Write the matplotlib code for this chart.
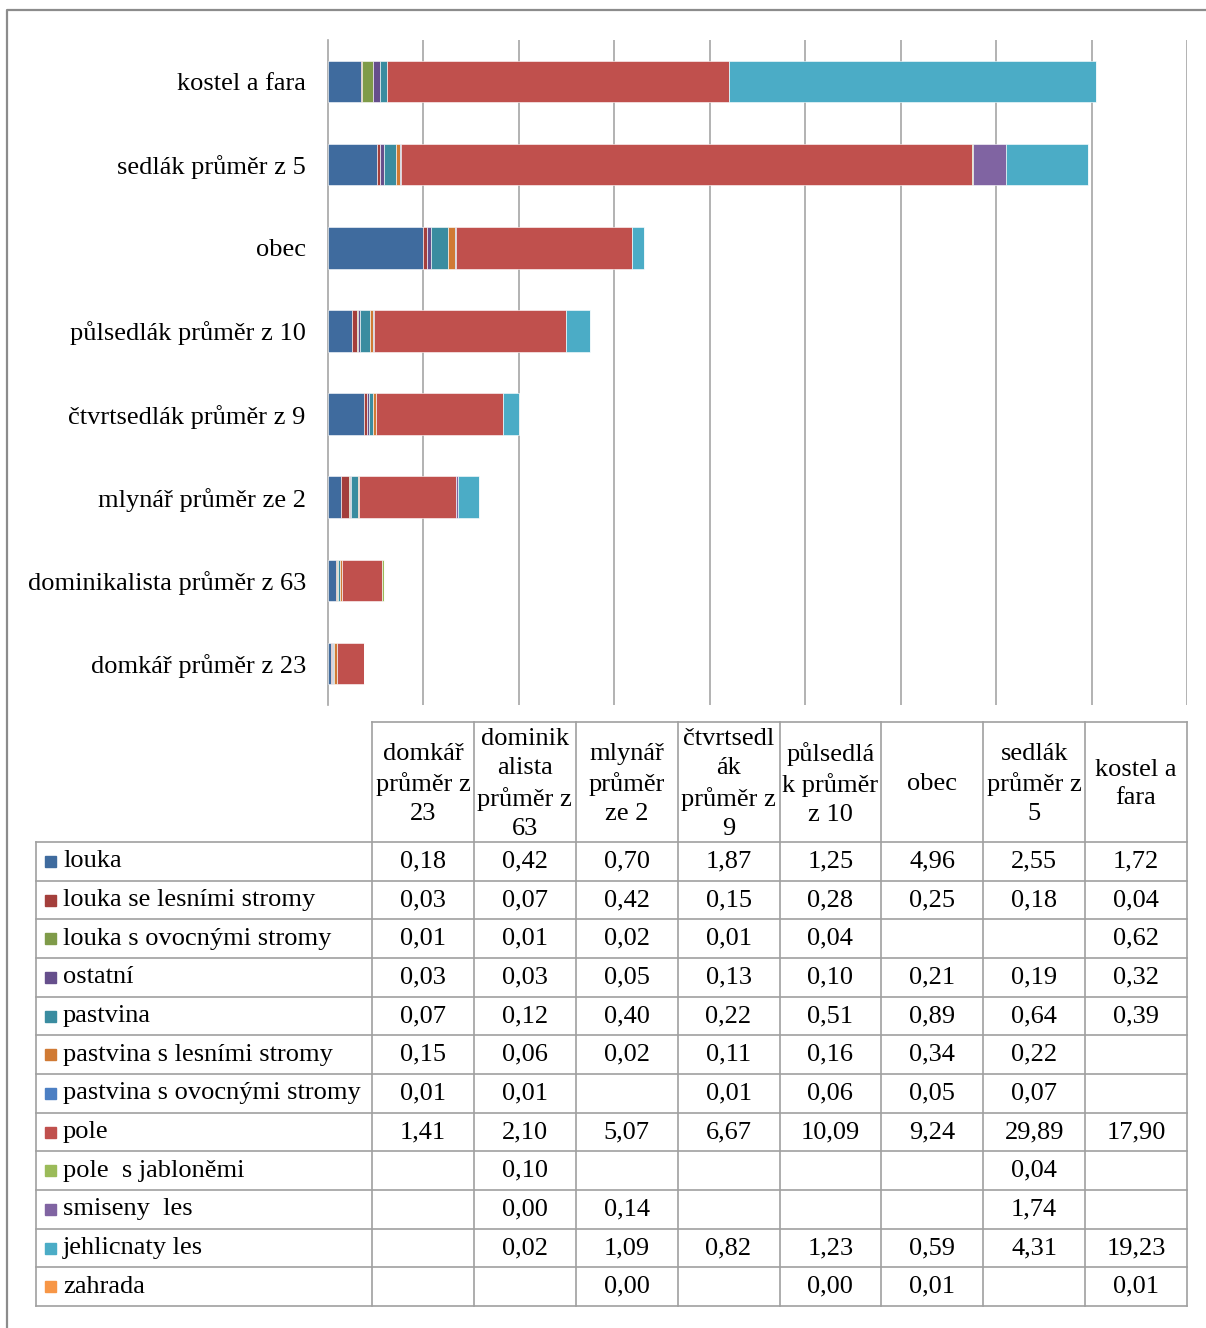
import matplotlib
matplotlib.use("Agg")
import matplotlib.pyplot as plt
import numpy as np
from matplotlib.patches import Rectangle

plt.rcParams.update({
    "font.family": ["Liberation Serif", "DejaVu Serif"],
    "font.size": 19,
})
FS = 19

# ── data ─────────────────────────────────────────────────────────────
categories = [
    "domkář průměr z 23",
    "dominikalista průměr z 63",
    "mlynář průměr ze 2",
    "čtvrtsedlák průměr z 9",
    "půlsedlák průměr z 10",
    "obec",
    "sedlák průměr z 5",
    "kostel a fara",
]
headers = [
    "domkář\nprůměr z\n23",
    "dominik\nalista\nprůměr z\n63",
    "mlynář\nprůměr\nze 2",
    "čtvrtsedl\nák\nprůměr z\n9",
    "půlsedlá\nk průměr\nz 10",
    "obec",
    "sedlák\nprůměr z\n5",
    "kostel a\nfara",
]
series_names = [
    "louka", "louka se lesními stromy", "louka s ovocnými stromy", "ostatní",
    "pastvina", "pastvina s lesními stromy", "pastvina s ovocnými stromy",
    "pole", "pole  s jabloněmi", "smiseny  les", "jehlicnaty les", "zahrada",
]
colors = [
    "#3f6b9e", "#a43f3c", "#7f9b49", "#664f8c", "#3a8ca0", "#d07a34",
    "#4c7fc3", "#c0504d", "#9bbb59", "#8064a2", "#4bacc6", "#f79646",
]
N = None
louka           = [0.18, 0.42, 0.70, 1.87, 1.25, 4.96, 2.55, 1.72]
louka_les       = [0.03, 0.07, 0.42, 0.15, 0.28, 0.25, 0.18, 0.04]
louka_ovoc      = [0.01, 0.01, 0.02, 0.01, 0.04, N,    N,    0.62]
ostatni         = [0.03, 0.03, 0.05, 0.13, 0.10, 0.21, 0.19, 0.32]
pastvina        = [0.07, 0.12, 0.40, 0.22, 0.51, 0.89, 0.64, 0.39]
pastvina_les    = [0.15, 0.06, 0.02, 0.11, 0.16, 0.34, 0.22, N]
pastvina_ovoc   = [0.01, 0.01, N,    0.01, 0.06, 0.05, 0.07, N]
pole            = [1.41, 2.10, 5.07, 6.67, 10.09, 9.24, 29.89, 17.90]
pole_jablone    = [N,    0.10, N,    N,    N,    N,    0.04, N]
smiseny_les     = [N,    0.00, 0.14, N,    N,    N,    1.74, N]
jehlicnaty_les  = [N,    0.02, 1.09, 0.82, 1.23, 0.59, 4.31, 19.23]
zahrada         = [N,    N,    0.00, N,    0.00, 0.01, N,    0.01]
series = [louka, louka_les, louka_ovoc, ostatni, pastvina, pastvina_les,
          pastvina_ovoc, pole, pole_jablone, smiseny_les, jehlicnaty_les, zahrada]

W, H = 1206, 1328
fig = plt.figure(figsize=(W / 100, H / 100), dpi=100)

# ── stacked bars ─────────────────────────────────────────────────────
ax = fig.add_axes([328 / W, 1 - 705 / H, (1187 - 328) / W, 665 / H])
y = np.arange(len(categories))
left = np.zeros(len(categories))
for vals, c in zip(series, colors):
    v = np.array([0.0 if a is None else a for a in vals])
    ax.barh(y, v, left=left, height=0.5, color=c, edgecolor="white",
            linewidth=0.4, zorder=3)
    left += v
ax.set_xlim(0, 45)
ax.set_ylim(-0.5, len(categories) - 0.5)
ax.set_xticks(np.arange(5, 46, 5))
ax.xaxis.grid(True, color="#a6a6a6", lw=1.2)
ax.tick_params(axis="x", length=0, labelbottom=False)
ax.tick_params(axis="y", length=0, pad=16, labelsize=FS)
ax.set_yticks(y, categories)
for s in ("top", "right", "bottom"):
    ax.spines[s].set_visible(False)
ax.spines["left"].set_color("#a6a6a6")
ax.spines["left"].set_linewidth(1.2)

# ── data table underneath ────────────────────────────────────────────
ov = fig.add_axes([0, 0, 1, 1])
ov.set_xlim(0, W)
ov.set_ylim(H, 0)
ov.axis("off")

lc = "#a0a0a0"
col_x = np.linspace(372, 1187, len(categories) + 1)
first_x = 36
head_top, head_bot = 722, 842
row_h = (1306 - head_bot) / len(series)
row_y = head_bot + np.arange(len(series) + 1) * row_h

ov.plot([col_x[0], col_x[-1]], [head_top, head_top], color=lc, lw=1.2)
for xc in col_x:
    ov.plot([xc, xc], [head_top, row_y[-1]], color=lc, lw=1.2)
for ry in row_y:
    ov.plot([first_x, col_x[-1]], [ry, ry], color=lc, lw=1.2)
ov.plot([first_x, first_x], [head_bot, row_y[-1]], color=lc, lw=1.2)

for j, h in enumerate(headers):
    ov.text((col_x[j] + col_x[j + 1]) / 2, (head_top + head_bot) / 2 + 2, h,
            ha="center", va="center", fontsize=FS, linespacing=1.4)

for i, (name, vals, c) in enumerate(zip(series_names, series, colors)):
    yc = (row_y[i] + row_y[i + 1]) / 2
    ov.add_patch(Rectangle((45, yc - 5.5), 11, 11, color=c))
    ov.text(63, yc, name, ha="left", va="center", fontsize=FS)
    for j, v in enumerate(vals):
        if v is None:
            continue
        ov.text((col_x[j] + col_x[j + 1]) / 2, yc, f"{v:.2f}".replace(".", ","),
                ha="center", va="center", fontsize=FS)

# outer chart frame
ov.plot([7, 7, W + 5], [H + 5, 10, 10], color="#8c8c8c", lw=1.6)

fig.savefig("out.png", dpi=100)
